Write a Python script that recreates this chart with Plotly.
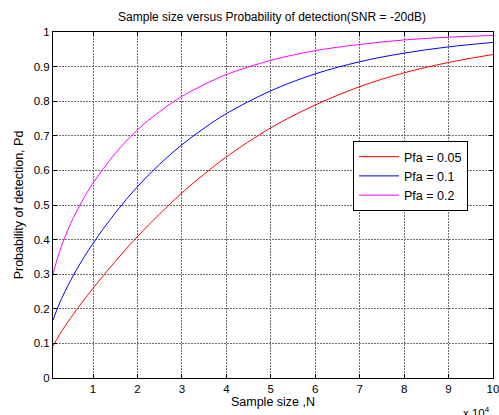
import plotly.graph_objects as go

# Sample size N in units of 10^4
sample_size = [0.1, 0.25, 0.5, 0.75, 1, 1.5, 2, 2.5, 3, 3.5, 4, 5, 6, 7, 8, 9, 10]

pd_pfa_005 = [0.092, 0.126, 0.174, 0.218, 0.259, 0.337, 0.409, 0.474, 0.535, 0.589,
              0.639, 0.723, 0.789, 0.842, 0.882, 0.912, 0.935]
pd_pfa_01 = [0.167, 0.217, 0.283, 0.339, 0.389, 0.477, 0.553, 0.618, 0.674, 0.722,
             0.764, 0.830, 0.879, 0.914, 0.939, 0.957, 0.970]
pd_pfa_02 = [0.300, 0.366, 0.447, 0.510, 0.563, 0.649, 0.717, 0.770, 0.814, 0.848,
             0.877, 0.918, 0.946, 0.964, 0.977, 0.985, 0.990]

series_names = ["Pfa = 0.05", "Pfa = 0.1", "Pfa = 0.2"]
series_colors = ["#ff0000", "#0000ff", "#ff00ff"]

x_ticks = [1, 2, 3, 4, 5, 6, 7, 8, 9, 10]
y_ticks = [0, 0.1, 0.2, 0.3, 0.4, 0.5, 0.6, 0.7, 0.8, 0.9, 1]
y_tick_labels = ["0", "0.1", "0.2", "0.3", "0.4", "0.5", "0.6", "0.7", "0.8", "0.9", "1"]

FONT = "Liberation Sans, Arial, sans-serif"

fig = go.Figure()
for name, color, ys in zip(series_names, series_colors, [pd_pfa_005, pd_pfa_01, pd_pfa_02]):
    fig.add_trace(go.Scatter(x=sample_size, y=ys, mode="lines", name=name,
                             line=dict(color=color, width=1, shape="spline")))

axis_common = dict(
    showline=True, linecolor="black", linewidth=1, mirror="ticks",
    ticks="inside", ticklen=4, tickcolor="black",
    showgrid=True, gridcolor="#6e6e6e", gridwidth=1, griddash="2px,1px",
    zeroline=False, ticklabeloverflow="allow",
    tickfont=dict(family=FONT, size=11.5, color="black"),
)

fig.update_layout(
    width=499, height=415,
    margin=dict(l=53, r=6, t=32, b=37, autoexpand=False),
    paper_bgcolor="white", plot_bgcolor="white",
    font=dict(family=FONT, size=11, color="black"),
    title=dict(text="Sample size versus Probability of detection(SNR = -20dB)",
               x=272 / 499, xanchor="center", xref="container",
               y=1 - 17 / 415, yanchor="middle", yref="container",
               font=dict(family=FONT, size=12, color="black")),
    xaxis=dict(range=[0.1, 10], tickvals=x_ticks, ticktext=[str(v) for v in x_ticks],
               automargin=False,
               title=dict(text="Sample size ,N", standoff=3,
                          font=dict(family=FONT, size=12.5)),
               **axis_common),
    yaxis=dict(range=[0, 1], tickvals=y_ticks, ticktext=y_tick_labels,
               automargin=False,
               title=dict(text="Probability of detection, Pd", standoff=7,
                          font=dict(family=FONT, size=12.5)),
               **axis_common),
    showlegend=True,
    legend=dict(x=(353 - 53) / 440, y=(378 - 141) / 346, xanchor="left", yanchor="top",
                bgcolor="white", bordercolor="black", borderwidth=1,
                font=dict(family=FONT, size=12.5, color="black"),
                tracegroupgap=0, itemwidth=40),
)

fig.add_annotation(text="x 10<sup>4</sup>", xref="paper", yref="paper",
                   x=1.0, y=0, xanchor="left", yanchor="top", yshift=-25, xshift=-32,
                   showarrow=False, font=dict(family=FONT, size=11.5, color="black"))

fig.write_html("out.html", config={"displayModeBar": False},
               post_script="document.body.style.margin='0';document.body.style.padding='0';")
